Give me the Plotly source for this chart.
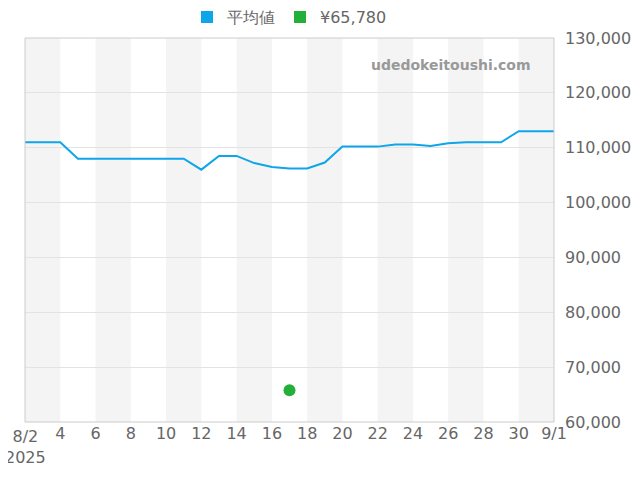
import plotly.graph_objects as go
import pandas as pd

dates = pd.date_range("2025-08-02", "2025-09-01", freq="D")
avg = [111000,111000,111000,108000,108000,108000,108000,108000,108000,108000,
       106000,108500,108500,107200,106500,106200,106200,107300,110200,110200,
       110200,110600,110600,110300,110800,111000,111000,111000,113000,113000,113000]
point_date = ["2025-08-17"]
point_val = [65780]
tickvals = list(pd.date_range("2025-08-02", "2025-09-01", freq="2D"))
ticktext = [""] + [str(d.day) for d in tickvals[1:-1]] + ["9/1"]
first_label = "8/2<br>2025"

fig = go.Figure()
fig.add_trace(go.Scatter(x=dates, y=avg, mode="lines", name="平均値", showlegend=False,
                         line=dict(color="#0ea5e9", width=2)))
fig.add_trace(go.Scatter(x=point_date, y=point_val, mode="markers", name="¥65,780", showlegend=False,
                         marker=dict(color="#22b03a", size=12)))
fig.add_trace(go.Scatter(x=[None], y=[None], mode="markers", name="平均値",
                         marker=dict(symbol="square", size=20, color="#0ea5e9")))
fig.add_trace(go.Scatter(x=[None], y=[None], mode="markers", name="¥65,780",
                         marker=dict(symbol="square", size=20, color="#22b03a")))
shapes = []
for i in range(0, len(tickvals) - 1, 2):
    shapes.append(dict(type="rect", xref="x", yref="paper", x0=tickvals[i], x1=tickvals[i+1],
                       y0=0, y1=1, fillcolor="#f4f4f4", line_width=0, layer="below"))
shapes.append(dict(type="rect", xref="paper", yref="paper", x0=0, x1=1, y0=0, y1=1,
                   line=dict(color="#cccccc", width=1)))
fig.update_layout(
    width=640, height=480, paper_bgcolor="white", plot_bgcolor="white",
    margin=dict(l=17, r=94, t=30, b=66, autoexpand=False), shapes=shapes,
    font=dict(family="DejaVu Sans", size=16, color="#666"),
    legend=dict(orientation="h", x=0.5, xanchor="center", y=1.01, yanchor="bottom",
                font=dict(size=16), itemsizing="constant"),
    xaxis=dict(range=[dates[0], dates[-1]], tickvals=tickvals, ticktext=ticktext,
               showgrid=False, ticks="", tickfont=dict(size=16), automargin=False),
    yaxis=dict(range=[60000, 130000], side="right", dtick=10000, tickformat=",d",
               gridcolor="#e3e3e3", tickfont=dict(size=16), automargin=False,
               ticklabelstandoff=10),
    annotations=[
        dict(text="<b>udedokeitoushi.com</b>", xref="paper", yref="paper",
             x=0.96, y=0.93, xanchor="right", yanchor="middle", showarrow=False,
             font=dict(size=14, color="#999")),
        dict(text=first_label, xref="x", yref="paper", x=dates[0], y=0, yshift=-3,
             xanchor="center", yanchor="top", showarrow=False, align="center",
             font=dict(size=16, color="#666")),
    ],
)
fig.write_html("out.html")
